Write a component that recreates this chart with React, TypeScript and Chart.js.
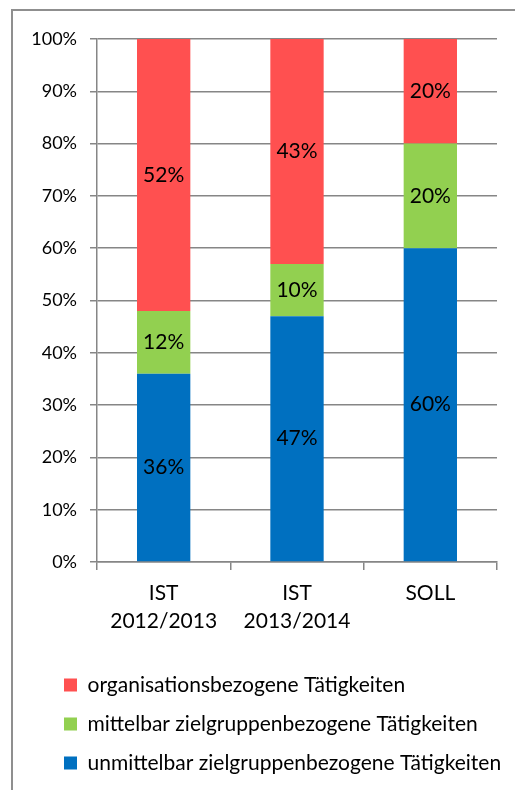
import React, { useEffect, useRef } from "react";
import { Chart, registerables } from "chart.js";

Chart.register(...registerables);

const categories: string[][] = [["IST", "2012/2013"], ["IST", "2013/2014"], ["SOLL"]];
const unmittelbar: number[] = [36, 47, 60];
const mittelbar: number[] = [12, 10, 20];
const organisation: number[] = [52, 43, 20];
const seriesNames: string[] = [
  "unmittelbar zielgruppenbezogene Tätigkeiten",
  "mittelbar zielgruppenbezogene Tätigkeiten",
  "organisationsbezogene Tätigkeiten",
];
const seriesColors: string[] = ["#0070C0", "#92D050", "#FF5050"];
const yTicks: number[] = [0, 10, 20, 30, 40, 50, 60, 70, 80, 90, 100];

const FONT = "Lato";
const GRID = "#868686";

const labelPlugin = {
  id: "segLabels",
  afterDatasetsDraw(chart: any) {
    const ctx = chart.ctx;
    ctx.save();
    ctx.fillStyle = "#000";
    ctx.font = `21px ${FONT}`;
    ctx.textAlign = "center";
    ctx.textBaseline = "middle";
    chart.data.datasets.forEach((ds: any, i: number) => {
      const meta = chart.getDatasetMeta(i);
      meta.data.forEach((el: any, j: number) => {
        const { x, y, base } = el.getProps(["x", "y", "base"], true);
        ctx.fillText(ds.data[j] + "%", x, (y + base) / 2);
      });
    });
    ctx.restore();
  },
};

const legendShift = {
  id: "legendShift",
  afterLayout(chart: any) {
    const lg = chart.legend;
    if (lg) {
      lg.left = 33;
      lg.right = chart.width;
      lg.width = lg.right - lg.left;
    }
  },
};

export default function App() {
  const ref = useRef<HTMLCanvasElement | null>(null);
  useEffect(() => {
    if (!ref.current) return;
    const chart = new Chart(ref.current, {
      type: "bar",
      data: {
        labels: categories,
        datasets: [unmittelbar, mittelbar, organisation].map((d, i) => ({
          label: seriesNames[i],
          data: d,
          backgroundColor: seriesColors[i],
          borderWidth: 0,
          barPercentage: 0.8,
          categoryPercentage: 0.5,
        })),
      },
      plugins: [labelPlugin, legendShift],
      options: {
        animation: false,
        responsive: false,
        maintainAspectRatio: false,
        layout: { padding: { top: 28, right: 18, left: 0, bottom: 6.5 } },
        plugins: {
          tooltip: { enabled: false },
          legend: {
            position: "bottom",
            align: "start",
            reverse: true,
            labels: {
              boxWidth: 13,
              boxHeight: 13,
              padding: 18,
              color: "#000",
              font: { family: FONT, size: 21 },
            },
          },
        },
        scales: {
          x: {
            stacked: true,
            afterFit: (scale: any) => {
              scale.height = 94.5;
            },
            grid: {
              display: true,
              drawOnChartArea: false,
              drawTicks: true,
              tickLength: 8,
              color: GRID,
              lineWidth: 1.5,
            },
            border: { color: GRID, width: 1.5 },
            ticks: {
              color: "#000",
              padding: 10,
              font: { family: FONT, size: 21, lineHeight: 1.3 },
              maxRotation: 0,
            },
          },
          y: {
            stacked: true,
            min: 0,
            max: 100,
            afterBuildTicks: (scale: any) => {
              scale.ticks = yTicks.map((v) => ({ value: v }));
            },
            afterFit: (scale: any) => {
              scale.width = 84;
            },
            grid: {
              color: GRID,
              lineWidth: 1.5,
              tickLength: 7,
            },
            border: { color: GRID, width: 1.5 },
            ticks: {
              color: "#000",
              padding: 13,
              font: { family: FONT, size: 18 },
              callback: (v: any) => v + "%",
            },
          },
        },
      },
    } as any);
    return () => chart.destroy();
  }, []);

  return (
    <div style={{ position: "fixed", left: 0, top: 0, width: 515, height: 790, overflow: "hidden", background: "#fff" }}>
      <div
        style={{
          position: "absolute",
          left: 11,
          top: 9,
          width: 600,
          height: 900,
          border: "2px solid #8f8f8f",
          boxSizing: "border-box",
        }}
      />
      <canvas
        ref={ref}
        width={502}
        height={779}
        style={{ position: "absolute", left: 13, top: 11, width: 502, height: 779 }}
      />
    </div>
  );
}
